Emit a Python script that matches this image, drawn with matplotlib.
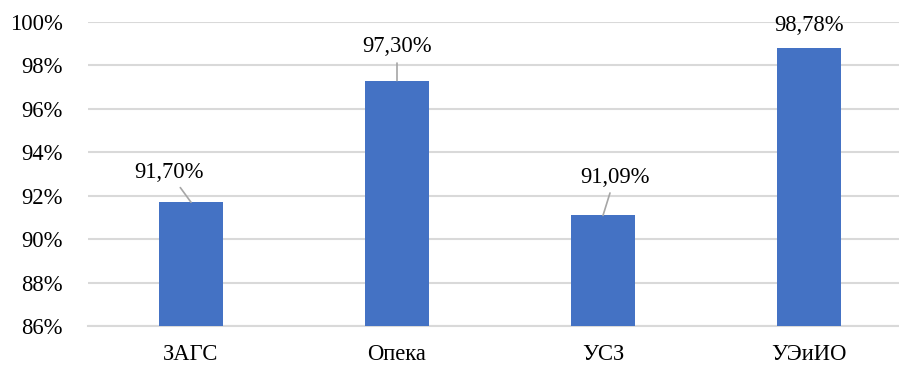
import matplotlib
matplotlib.use("Agg")
import matplotlib.pyplot as plt
from matplotlib.ticker import FuncFormatter

categories = ["ЗАГС", "Опека", "УСЗ", "УЭиИО"]
values = [91.70, 97.30, 91.09, 98.78]
value_labels = ["91,70%", "97,30%", "91,09%", "98,78%"]
# label anchor offsets (category units, percentage points) relative to each bar top
label_dx = [-0.107, 0.0, 0.058, 0.0]
label_dy = [1.39, 1.55, 1.77, 1.08]
leader = [True, True, True, False]

plt.rcParams["font.family"] = ["Liberation Serif", "DejaVu Serif"]

fig = plt.figure(figsize=(8.99, 3.65), dpi=100)
ax = fig.add_axes([88 / 899, 39 / 365, 824 / 899, 304 / 365])

x = range(len(categories))
ax.bar(x, [v - 86 for v in values], bottom=86, width=0.31, color="#4472C4", zorder=3)

ax.set_xlim(-0.5, 3.5)
ax.set_ylim(86, 100)
ax.set_yticks(range(86, 101, 2))
ax.yaxis.set_major_formatter(FuncFormatter(lambda v, p: f"{v:.0f}%"))
ax.grid(axis="y", color="#d9d9d9", linewidth=1.5, zorder=0)
ax.set_xticks(list(x))
ax.set_xticklabels(categories)
ax.tick_params(axis="both", length=0, labelsize=16.3, colors="#000000")
ax.tick_params(axis="y", pad=18)
ax.tick_params(axis="x", pad=13)
for s in ["top", "right", "left"]:
    ax.spines[s].set_visible(False)
ax.spines["bottom"].set_color("#d9d9d9")
ax.spines["bottom"].set_linewidth(1.5)
ax.set_axisbelow(True)

for i, (v, lab) in enumerate(zip(values, value_labels)):
    tx, ty = i + label_dx[i], v + label_dy[i]
    props = dict(arrowstyle="-", color="#a6a6a6", lw=1.2, shrinkA=2, shrinkB=0) if leader[i] else None
    ax.annotate(lab, xy=(i, v), xytext=(tx, ty), ha="center", va="center",
                fontsize=16.3, arrowprops=props, annotation_clip=False, zorder=4)

fig.savefig("out.png", dpi=100)
